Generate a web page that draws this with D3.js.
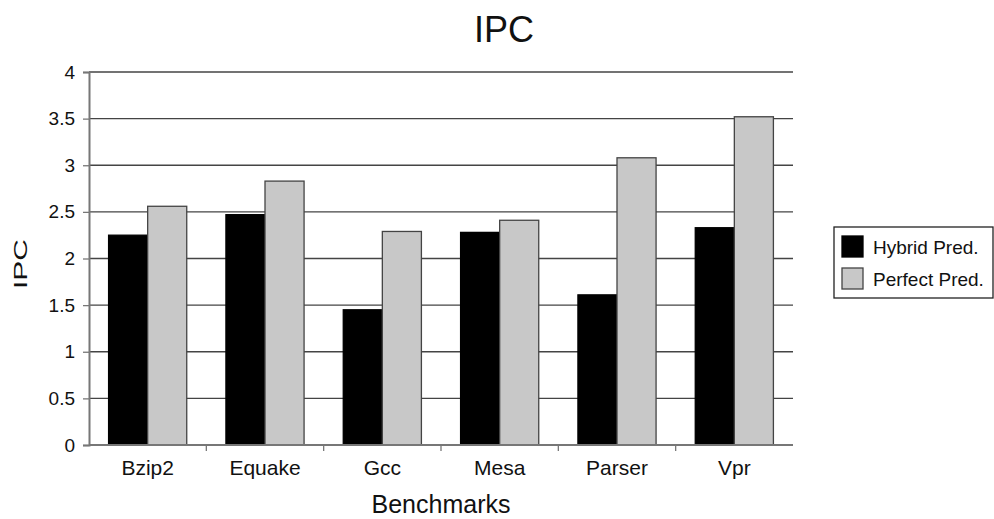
<!DOCTYPE html>
<html>
<head>
<meta charset="utf-8">
<script src="https://cdn.jsdelivr.net/npm/d3@7"></script>
<style>
  body { margin: 0; background: #fff; }
  svg { font-family: "Liberation Sans", Arial, sans-serif; }
</style>
</head>
<body>
<div id="chart"></div>
<script>
// data
var benchmarks = ["Bzip2", "Equake", "Gcc", "Mesa", "Parser", "Vpr"];
var seriesNames = ["Hybrid Pred.", "Perfect Pred."];
var hybridIPC = [2.25, 2.47, 1.45, 2.28, 1.61, 2.33];
var perfectIPC = [2.56, 2.83, 2.29, 2.41, 3.08, 3.52];
var yTicks = [0, 0.5, 1, 1.5, 2, 2.5, 3, 3.5, 4];
var seriesColors = ["#000000", "#c8c8c8"];

var svgWidth = 994;
var svgHeight = 519;

var chartMargin = { top: 72, right: 201, bottom: 74, left: 89 };
var chartWidth = svgWidth - chartMargin.left - chartMargin.right;
var chartHeight = svgHeight - chartMargin.top - chartMargin.bottom;

var svg = d3.select("#chart")
    .append("svg")
    .attr("width", svgWidth)
    .attr("height", svgHeight);

var chartGroup = svg.append("g")
    .attr("transform", `translate(${chartMargin.left}, ${chartMargin.top})`);

// scales
var x0 = d3.scaleBand()
    .domain(benchmarks)
    .range([0, chartWidth])
    .padding(0);

var x1 = d3.scaleBand()
    .domain(seriesNames)
    .range([x0.bandwidth() * 0.167, x0.bandwidth() * 0.833])
    .padding(0);

var yScale = d3.scaleLinear()
    .domain([0, 4])
    .range([chartHeight, 0]);

// gridlines
chartGroup.append("g")
    .selectAll("line")
    .data(yTicks.filter(d => d > 0))
    .enter()
    .append("line")
    .attr("x1", 0)
    .attr("x2", chartWidth)
    .attr("y1", d => yScale(d))
    .attr("y2", d => yScale(d))
    .attr("stroke", "#444")
    .attr("stroke-width", 1.3);

// bars
var rows = benchmarks.map((b, i) => ({ name: b, values: [hybridIPC[i], perfectIPC[i]] }));

var groups = chartGroup.selectAll(".bench")
    .data(rows)
    .enter()
    .append("g")
    .attr("class", "bench")
    .attr("transform", d => `translate(${x0(d.name)}, 0)`);

groups.selectAll("rect")
    .data(d => d.values.map((v, j) => ({ series: seriesNames[j], value: v, j: j })))
    .enter()
    .append("rect")
    .attr("x", d => x1(d.series))
    .attr("y", d => yScale(d.value))
    .attr("width", x1.bandwidth())
    .attr("height", d => chartHeight - yScale(d.value))
    .attr("fill", d => seriesColors[d.j])
    .attr("stroke", d => d.j === 0 ? "#000" : "#444")
    .attr("stroke-width", 1.3);

// axes
var leftAxis = d3.axisLeft(yScale)
    .tickValues(yTicks)
    .tickFormat(d3.format("~g"))
    .tickSize(6)
    .tickPadding(8);

var yAxis = chartGroup.append("g").call(leftAxis);
yAxis.select(".domain").attr("stroke", "#777").attr("stroke-width", 2);
yAxis.selectAll(".tick line").attr("stroke", "#777").attr("stroke-width", 1.3);
yAxis.selectAll("text")
    .attr("font-size", 19)
    .attr("font-family", "Liberation Sans, Arial, sans-serif")
    .attr("fill", "#111");

// x axis: ticks sit on category boundaries
var xAxis = chartGroup.append("g")
    .attr("transform", `translate(0, ${chartHeight})`);
xAxis.append("line")
    .attr("x1", 0).attr("x2", chartWidth)
    .attr("y1", 0).attr("y2", 0)
    .attr("stroke", "#777").attr("stroke-width", 2);
xAxis.selectAll(".btick")
    .data(benchmarks.slice(1))
    .enter()
    .append("line")
    .attr("x1", d => x0(d)).attr("x2", d => x0(d))
    .attr("y1", 0).attr("y2", 6)
    .attr("stroke", "#777").attr("stroke-width", 1.3);
xAxis.selectAll(".blabel")
    .data(benchmarks)
    .enter()
    .append("text")
    .attr("x", d => x0(d) + x0.bandwidth() / 2)
    .attr("y", 30)
    .attr("text-anchor", "middle")
    .attr("font-size", 21)
    .attr("fill", "#111")
    .text(d => d);

// titles
svg.append("text")
    .attr("x", 504)
    .attr("y", 42)
    .attr("text-anchor", "middle")
    .attr("font-size", 36)
    .attr("fill", "#111")
    .text("IPC");

svg.append("text")
    .attr("x", chartMargin.left + chartWidth / 2)
    .attr("y", 513)
    .attr("text-anchor", "middle")
    .attr("font-size", 25)
    .attr("fill", "#111")
    .text("Benchmarks");

svg.append("text")
    .attr("transform", "translate(27, 264) rotate(-90) scale(1, 0.62)")
    .attr("text-anchor", "middle")
    .attr("font-size", 30)
    .attr("fill", "#111")
    .text("IPC");

// legend
var legend = svg.append("g").attr("transform", "translate(834, 227)");
legend.append("rect")
    .attr("x", 0).attr("y", 0)
    .attr("width", 159).attr("height", 71)
    .attr("fill", "#fff")
    .attr("stroke", "#222")
    .attr("stroke-width", 1.3);

var legendItems = legend.selectAll(".item")
    .data(seriesNames)
    .enter()
    .append("g")
    .attr("transform", (d, i) => `translate(8, ${9 + i * 32})`);

legendItems.append("rect")
    .attr("width", 21)
    .attr("height", 21)
    .attr("fill", (d, i) => seriesColors[i])
    .attr("stroke", (d, i) => i === 0 ? "#000" : "#444")
    .attr("stroke-width", 1.3);

legendItems.append("text")
    .attr("x", 31)
    .attr("y", 18)
    .attr("font-size", 19)
    .attr("fill", "#111")
    .text(d => d);
</script>
</body>
</html>
